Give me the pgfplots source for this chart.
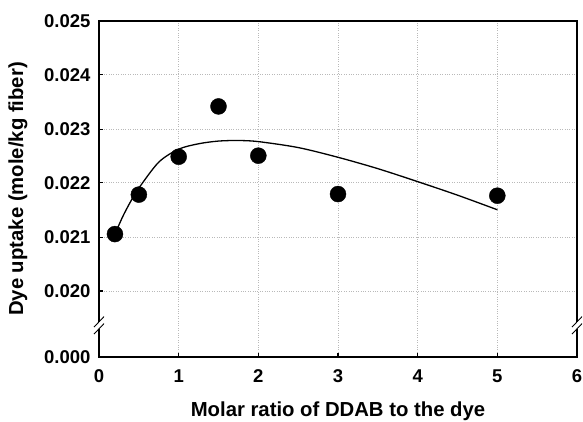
\documentclass[border=0pt]{standalone}
\usepackage{fontspec}
\setmainfont{Liberation Sans}
\usepackage{pgfplots}
\pgfplotsset{compat=1.18}
\begin{document}
\begin{tikzpicture}
\begin{axis}[
  width=478pt, height=336pt, scale only axis,
  xmin=0, xmax=6, ymin=0, ymax=0.025,
  y coord trafo/.code={\pgfmathparse{#1<0.01 ? #1*1000-1.222 : (#1-0.02)*1000}},
  xtick={0,1,2,3,4,5,6},
  xticklabels={0,1,2,3,4,5,6},
  ytick={0,0.020,0.021,0.022,0.023,0.024,0.025},
  yticklabels={0.000,0.020,0.021,0.022,0.023,0.024,0.025},
  tick pos=left,
  tick align=inside,
  major tick length=4pt,
  grid=major,
  grid style={dotted, gray!55, line width=0.7pt},
  axis line style={line width=1.6pt, black},
  every tick/.style={black, line width=1.2pt},
  tick label style={font=\fontsize{18.5}{21}\selectfont\bfseries},
  xticklabel style={yshift=-9pt},
  yticklabel style={xshift=-5pt},
  label style={font=\fontsize{20.3}{23}\selectfont\bfseries},
  xlabel={Molar ratio of DDAB to the dye},
  ylabel={Dye uptake (mole/kg fiber)},
  xlabel style={yshift=-12pt},
  ylabel style={yshift=10pt},
]
\addplot[black, line width=1.3pt, smooth, no marks] coordinates {
 (0.2,0.02105) (0.3,0.02138) (0.4,0.02166) (0.5,0.02190) (0.75,0.02238)
 (1,0.02262) (1.25,0.02272) (1.5,0.02277) (1.75,0.02278) (2,0.02276)
 (2.5,0.02265) (3,0.02247) (3.5,0.02226) (4,0.02202) (4.5,0.02177) (5,0.02150)
};
\addplot[only marks, mark=*, mark size=8pt, black] coordinates {
 (0.2,0.02105) (0.5,0.02178) (1,0.02248) (1.5,0.02341) (2,0.02250) (3,0.02179) (5,0.02176)
};
\coordinate (O) at (rel axis cs:0,0);
\coordinate (BL) at (rel axis cs:0,0.0935);
\coordinate (BR) at (rel axis cs:1,0.0935);
\end{axis}
\foreach \p in {BL,BR}{
  \fill[white] ([shift={(-2pt,-3.5pt)}]\p) rectangle ([shift={(2pt,3.5pt)}]\p);
  \draw[black, line width=0.9pt] ([shift={(-5pt,-1.5pt)}]\p) -- ([shift={(5pt,9pt)}]\p);
  \draw[black, line width=0.9pt] ([shift={(-5pt,-8.5pt)}]\p) -- ([shift={(5pt,2pt)}]\p);
}
\pgfresetboundingbox
\path[use as bounding box] ([shift={(-99pt,-64pt)}]O) rectangle ([shift={(484pt,357pt)}]O);
\end{tikzpicture}
\end{document}
